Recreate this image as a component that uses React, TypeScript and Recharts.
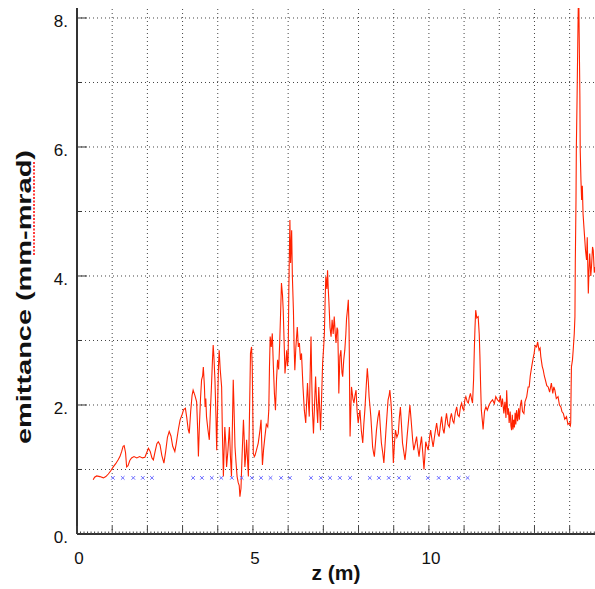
import React from 'react'
import {
  ComposedChart,
  Line,
  Scatter,
  XAxis,
  YAxis,
  ReferenceLine,
} from 'recharts'

// emittance along z in pieces
const injector: [number, number][] = [
  [0.46, 0.84], [0.5, 0.88], [0.56, 0.9], [0.65, 0.89], [0.75, 0.87], [0.82, 0.89], [0.89, 0.93],
  [0.96, 0.98], [1.03, 1.04], [1.1, 1.09], [1.17, 1.15], [1.22, 1.2], [1.27, 1.28], [1.31, 1.36],
  [1.34, 1.37], [1.38, 1.26], [1.41, 1.04], [1.45, 1.06], [1.5, 1.14], [1.55, 1.18], [1.62, 1.2],
  [1.7, 1.18], [1.78, 1.2], [1.86, 1.18], [1.93, 1.19], [1.98, 1.26], [2.03, 1.33], [2.08, 1.28],
  [2.13, 1.18], [2.17, 1.15], [2.22, 1.28], [2.27, 1.4], [2.31, 1.43], [2.36, 1.38], [2.41, 1.22],
  [2.47, 1.1], [2.52, 1.28], [2.57, 1.5], [2.62, 1.59], [2.67, 1.52], [2.72, 1.36], [2.78, 1.28],
  [2.82, 1.4], [2.88, 1.62], [2.93, 1.77], [2.98, 1.84], [3.03, 1.93], [3.08, 1.95], [3.12, 1.8],
  [3.16, 1.62], [3.19, 1.56], [3.23, 1.9], [3.27, 2.15], [3.3, 2.23], [3.35, 2.15], [3.4, 2.05],
  [3.43, 1.6], [3.45, 1.2],
]

const firstTanks: [number, number][] = [
  [3.48, 1.7], [3.51, 2.1], [3.54, 2.39], [3.57, 2.45], [3.59, 2.59], [3.62, 2.3], [3.64, 1.97],
  [3.66, 2.1], [3.68, 1.82], [3.72, 1.62], [3.76, 1.46], [3.79, 1.9], [3.82, 2.28], [3.85, 2.7],
  [3.87, 2.93], [3.89, 2.75], [3.92, 2.39], [3.95, 1.8], [3.97, 1.3], [4.0, 2.1], [4.02, 2.6],
  [4.04, 2.85], [4.07, 2.55], [4.11, 2.28], [4.13, 1.6], [4.16, 0.89], [4.18, 1.3], [4.2, 1.66],
  [4.23, 1.4], [4.25, 1.04], [4.29, 1.3], [4.33, 1.66], [4.36, 1.2], [4.39, 0.89], [4.42, 1.8],
  [4.44, 2.39], [4.46, 2.0], [4.49, 1.35], [4.52, 1.1], [4.55, 0.89], [4.58, 0.8], [4.61, 0.75],
  [4.63, 0.58], [4.66, 0.71], [4.69, 1.2], [4.73, 1.77], [4.75, 1.5], [4.77, 1.04], [4.8, 1.25],
  [4.82, 1.46], [4.85, 1.1], [4.87, 0.89], [4.9, 1.8], [4.93, 2.8], [4.96, 2.9], [4.98, 2.6],
  [5.01, 1.25], [5.04, 1.2],
]

const midTanks: [number, number][] = [
  [5.06, 1.22], [5.1, 1.3], [5.15, 1.41], [5.2, 1.61], [5.23, 1.77], [5.25, 1.4], [5.27, 1.07],
  [5.3, 1.3], [5.34, 1.51], [5.38, 1.7], [5.42, 1.66], [5.45, 1.92], [5.47, 2.6], [5.49, 3.06],
  [5.52, 2.9], [5.55, 3.11], [5.58, 2.6], [5.61, 2.18], [5.64, 1.92], [5.67, 2.4], [5.7, 2.7],
  [5.73, 2.55], [5.76, 2.96], [5.79, 3.5], [5.81, 3.89], [5.84, 3.7], [5.86, 3.47], [5.89, 2.9],
  [5.91, 2.49], [5.94, 2.7], [5.96, 2.85], [5.98, 2.6], [6.0, 2.7], [6.02, 3.8], [6.05, 4.87],
  [6.07, 4.2], [6.1, 4.71], [6.12, 4.0], [6.15, 3.47], [6.17, 2.9], [6.19, 2.54], [6.22, 2.9],
  [6.26, 3.21], [6.29, 2.9], [6.32, 2.96], [6.35, 2.7], [6.38, 2.8], [6.42, 2.3], [6.46, 1.92],
  [6.5, 1.72], [6.53, 2.1], [6.55, 2.34], [6.58, 2.0], [6.6, 1.82], [6.63, 2.6], [6.65, 3.06],
  [6.67, 2.4], [6.69, 1.92], [6.72, 1.56], [6.75, 2.0], [6.78, 2.44], [6.81, 2.0], [6.84, 1.72],
  [6.87, 2.28], [6.9, 1.9], [6.92, 1.61], [6.95, 2.1], [6.98, 2.65], [7.01, 2.9], [7.03, 3.11],
  [7.05, 3.6], [7.07, 3.99], [7.1, 3.8], [7.12, 4.09], [7.14, 3.8], [7.16, 3.58], [7.19, 3.2],
  [7.22, 3.06], [7.25, 3.32], [7.28, 3.1], [7.31, 3.37], [7.34, 3.1], [7.36, 2.96], [7.39, 3.2],
  [7.41, 3.16], [7.43, 2.6], [7.44, 2.18], [7.47, 2.75], [7.5, 2.85], [7.53, 2.5], [7.55, 2.44],
  [7.58, 2.7], [7.61, 2.85], [7.64, 3.1], [7.66, 3.34], [7.69, 3.5], [7.71, 3.63], [7.73, 3.2],
  [7.74, 2.75], [7.75, 2.0], [7.76, 1.51], [7.78, 1.9], [7.8, 2.28],
]

const lateTanks: [number, number][] = [
  [7.84, 2.1], [7.87, 2.03], [7.9, 2.15], [7.93, 2.23], [7.96, 1.9], [7.99, 1.72], [8.02, 1.85],
  [8.04, 1.92], [8.08, 1.6], [8.12, 1.41], [8.15, 1.7], [8.18, 1.92], [8.22, 2.3], [8.25, 2.57],
  [8.28, 2.35], [8.3, 2.13], [8.33, 1.95], [8.35, 1.82], [8.38, 1.55], [8.4, 1.35], [8.43, 1.25],
  [8.45, 1.2], [8.48, 1.4], [8.51, 1.61], [8.55, 1.8], [8.59, 1.92], [8.62, 1.65], [8.65, 1.41],
  [8.69, 1.25], [8.72, 1.1], [8.75, 1.35], [8.78, 1.61], [8.81, 1.85], [8.84, 2.08], [8.87, 2.15],
  [8.89, 2.23], [8.92, 2.05], [8.94, 1.87], [8.97, 1.4], [8.99, 1.1], [9.02, 1.4], [9.05, 1.61],
  [9.09, 1.5], [9.13, 1.56], [9.16, 1.8], [9.19, 1.97], [9.22, 1.7], [9.25, 1.41], [9.28, 1.3],
  [9.32, 1.15], [9.35, 1.3], [9.38, 1.51], [9.42, 1.75], [9.46, 2.0], [9.49, 1.8], [9.51, 1.66],
  [9.54, 1.45], [9.57, 1.3], [9.61, 1.4], [9.65, 1.51], [9.68, 1.35], [9.72, 1.2], [9.75, 1.35],
  [9.79, 1.51], [9.82, 1.3], [9.86, 1.0], [9.89, 1.25], [9.91, 1.43], [9.95, 1.35], [9.98, 1.3],
  [10.02, 1.5], [10.05, 1.61], [10.09, 1.45], [10.12, 1.35], [10.17, 1.55], [10.22, 1.72],
]

const lastTanks: [number, number][] = [
  [10.26, 1.55], [10.29, 1.51], [10.33, 1.7], [10.36, 1.82], [10.4, 1.62], [10.43, 1.56],
  [10.47, 1.75], [10.5, 1.87], [10.54, 1.7], [10.58, 1.66], [10.61, 1.8], [10.64, 1.87],
  [10.68, 1.75], [10.71, 1.72], [10.75, 1.88], [10.79, 1.97], [10.82, 1.85], [10.86, 1.82],
  [10.9, 1.98], [10.93, 2.03], [10.96, 1.95], [10.99, 1.92], [11.02, 2.08], [11.05, 2.13],
  [11.09, 2.05], [11.12, 2.03], [11.15, 2.12], [11.18, 2.18], [11.21, 2.1], [11.24, 2.03],
  [11.27, 2.4], [11.29, 2.85], [11.31, 3.2], [11.33, 3.47], [11.36, 3.35], [11.4, 3.37],
  [11.43, 3.1], [11.45, 2.75], [11.47, 2.3], [11.49, 1.92], [11.52, 1.75], [11.54, 1.62],
  [11.58, 1.9], [11.62, 1.97], [11.66, 1.92], [11.71, 2.0], [11.76, 2.05], [11.81, 2.08],
  [11.86, 2.02], [11.9, 2.13], [11.95, 2.08], [12.0, 2.05], [12.03, 2.15], [12.06, 1.97],
  [12.09, 2.1], [12.13, 1.87], [12.16, 2.05], [12.19, 1.8], [12.21, 2.23], [12.24, 1.85],
  [12.26, 1.95], [12.28, 1.72], [12.31, 1.9], [12.33, 1.68], [12.35, 1.61], [12.37, 1.85],
  [12.39, 1.62], [12.41, 1.77], [12.43, 1.65], [12.45, 1.88], [12.47, 1.7], [12.49, 1.92],
  [12.52, 1.75], [12.55, 1.95], [12.57, 1.77], [12.6, 2.0], [12.63, 2.08], [12.66, 1.9],
  [12.7, 1.87], [12.73, 2.05], [12.78, 2.13], [12.82, 2.28],
]

const exitLine: [number, number][] = [
  [12.85, 2.28], [12.88, 2.45], [12.92, 2.59], [12.96, 2.72], [12.99, 2.8], [13.02, 2.92],
  [13.06, 2.9], [13.09, 2.98], [13.13, 2.85], [13.16, 2.88], [13.18, 2.75], [13.22, 2.6],
  [13.25, 2.54], [13.28, 2.45], [13.31, 2.39], [13.35, 2.3], [13.39, 2.28], [13.43, 2.2],
  [13.48, 2.34], [13.52, 2.18], [13.55, 2.28], [13.58, 2.23], [13.62, 2.1], [13.67, 2.13],
  [13.71, 2.0], [13.75, 1.97], [13.78, 1.9], [13.82, 1.87], [13.86, 1.78], [13.91, 1.82],
  [13.95, 1.7], [13.99, 1.72], [14.02, 1.68], [14.03, 1.72], [14.04, 2.2], [14.05, 2.59],
  [14.08, 2.7], [14.1, 2.85], [14.13, 3.1], [14.15, 3.37], [14.16, 4.2], [14.18, 5.18],
  [14.19, 6.0], [14.21, 6.73], [14.23, 7.6], [14.25, 8.4], [14.26, 8.3], [14.27, 7.77],
  [14.29, 6.8], [14.3, 5.95], [14.32, 5.5], [14.34, 5.18], [14.36, 5.4], [14.38, 4.97],
  [14.4, 4.8], [14.43, 4.56], [14.45, 4.4], [14.48, 4.25], [14.5, 4.6], [14.53, 3.73],
  [14.55, 4.1], [14.57, 4.35], [14.6, 4.0], [14.62, 4.14], [14.65, 4.45], [14.67, 4.4],
  [14.7, 4.05], [14.72, 4.14],
]

// quadrupole positions (blue crosses)
const quadZ = [
  1.02, 1.3, 1.6, 1.87, 2.13,
  3.3, 3.55, 3.83, 4.1, 4.4, 4.68, 4.97, 5.23, 5.5, 5.8, 6.05,
  6.65, 6.93, 7.19, 7.47, 7.76,
  8.32, 8.58, 8.86, 9.15, 9.43,
  9.97, 10.28, 10.57, 10.85, 11.1,
]
const quadLevel = 0.87

const xMajor = [0, 1, 2, 3, 4, 5, 6, 7, 8, 9, 10, 11, 12, 13, 14]
const xLabels = [0, 5, 10]
const yMajor = [0, 1, 2, 3, 4, 5, 6, 7, 8]
const yLabels = [0, 2, 4, 6, 8]

const X_MAX = 14.72
const Y_MAX = 8.155

const curve = [...injector, ...firstTanks, ...midTanks, ...lateTanks, ...lastTanks, ...exitLine]
  .map(([z, e]) => ({ z, e }))
const quads = quadZ.map(z => ({ z, e: quadLevel }))

// minor ticks every 0.1 along the bottom axis
const xMinor: number[] = []
for (let i = 0; i <= 147; i++) xMinor.push(i / 10)

const font = '"Liberation Sans", Arial, Helvetica, sans-serif'

const BottomTick = (props: any) => {
  const { x, y, payload } = props
  const v = payload.value
  const major = Math.abs(v - Math.round(v)) < 1e-6
  const show = major && xLabels.includes(Math.round(v))
  return (
    <g>
      <line x1={x} y1={y} x2={x} y2={y - (major ? 8 : 2.5)} stroke="#444" strokeWidth={1} />
      {show && (
        <text x={x + 2} y={y + 30} textAnchor="middle" fontSize={17} fontFamily={font} fill="#111">
          {Math.round(v)}
        </text>
      )}
    </g>
  )
}

const TopTick = (props: any) => {
  const { x, y } = props
  return <line x1={x} y1={y} x2={x} y2={y + 8} stroke="#333" strokeWidth={1} />
}

const LeftTick = (props: any) => {
  const { x, y, payload } = props
  const v = payload.value
  const show = yLabels.includes(v)
  return (
    <g>
      <line x1={x} y1={y} x2={x + (show ? 10 : 5)} y2={y} stroke="#333" strokeWidth={1} />
      {show && (
        <text x={x - 9} y={y + 9} textAnchor="end" fontSize={17} fontFamily={font} fill="#111">
          {v + '.'}
        </text>
      )}
    </g>
  )
}

const QuadMark = (props: any) => {
  const { cx, cy } = props
  if (cx == null || cy == null) return <g />
  const s = 1.8
  return (
    <g stroke="#6b6bff" strokeWidth={1}>
      <line x1={cx - s} y1={cy - s} x2={cx + s} y2={cy + s} />
      <line x1={cx - s} y1={cy + s} x2={cx + s} y2={cy - s} />
    </g>
  )
}

const XTitle = (props: any) => {
  const vb = props.viewBox || { x: 77, y: 534, width: 518 }
  return (
    <text
      x={vb.x + vb.width / 2}
      y={vb.y + 46}
      textAnchor="middle"
      fontSize={21}
      fontWeight="bold"
      fontFamily={font}
      fill="#111"
    >
      z (m)
    </text>
  )
}

const YTitle = (props: any) => {
  const vb = props.viewBox || { x: 0, y: 8, width: 77, height: 526 }
  const cx = vb.x + 31
  const cy = vb.y + vb.height / 2 + 26
  const len = 294
  return (
    <g>
      <text
        x={cx}
        y={cy}
        transform={`rotate(-90 ${cx} ${cy})`}
        textAnchor="middle"
        textLength={len}
        lengthAdjust="spacingAndGlyphs"
        fontSize={21}
        fontWeight="bold"
        fontFamily={font}
        fill="#111"
      >
        emittance (mm-mrad)
      </text>
      {/* spell-check squiggle under "mm-mrad" */}
      <path
        d={`M ${cx + 3} ${cy - len / 2 + 12} L ${cx + 3} ${cy - len / 2 + 106}`}
        stroke="#ff3b3b"
        strokeWidth={2}
        strokeDasharray="2 1.5"
        fill="none"
      />
    </g>
  )
}

export default function App() {
  return (
    <div style={{ position: 'absolute', left: 0, top: 0, background: '#fff' }}>
      <ComposedChart width={595} height={589} margin={{ top: 8, right: 0, bottom: 0, left: 0 }}>
        <XAxis
          xAxisId="top"
          orientation="top"
          type="number"
          domain={[0, X_MAX]}
          allowDataOverflow
          ticks={xMajor}
          height={0}
          tickSize={0}
          tickMargin={0}
          tickLine={false}
          tick={<TopTick />}
          axisLine={{ stroke: '#a0a0a0', strokeWidth: 2 }}
        />
        <XAxis
          dataKey="z"
          type="number"
          domain={[0, X_MAX]}
          allowDataOverflow
          ticks={xMinor}
          interval={0}
          height={55}
          tickSize={0}
          tickMargin={0}
          tickLine={false}
          tick={<BottomTick />}
          axisLine={{ stroke: '#333', strokeWidth: 2 }}
          label={<XTitle />}
        />
        <YAxis
          type="number"
          domain={[0, Y_MAX]}
          allowDataOverflow
          ticks={yMajor}
          interval={0}
          width={77}
          tickSize={0}
          tickMargin={0}
          tickLine={false}
          tick={<LeftTick />}
          axisLine={{ stroke: '#333', strokeWidth: 2 }}
          label={<YTitle />}
        />
        {xMajor.slice(1).map(v => (
          <ReferenceLine key={'vx' + v} x={v} stroke="#444" strokeDasharray="1 3" strokeWidth={1} />
        ))}
        {yMajor.slice(1).map(v => (
          <ReferenceLine key={'hy' + v} y={v} stroke="#444" strokeDasharray="1 3" strokeWidth={1} />
        ))}
        <Scatter data={quads} dataKey="e" shape={<QuadMark />} isAnimationActive={false} />
        <Line
          data={curve}
          dataKey="e"
          type="linear"
          stroke="#ff2200"
          strokeWidth={1.1}
          dot={false}
          activeDot={false}
          isAnimationActive={false}
        />
      </ComposedChart>
    </div>
  )
}
